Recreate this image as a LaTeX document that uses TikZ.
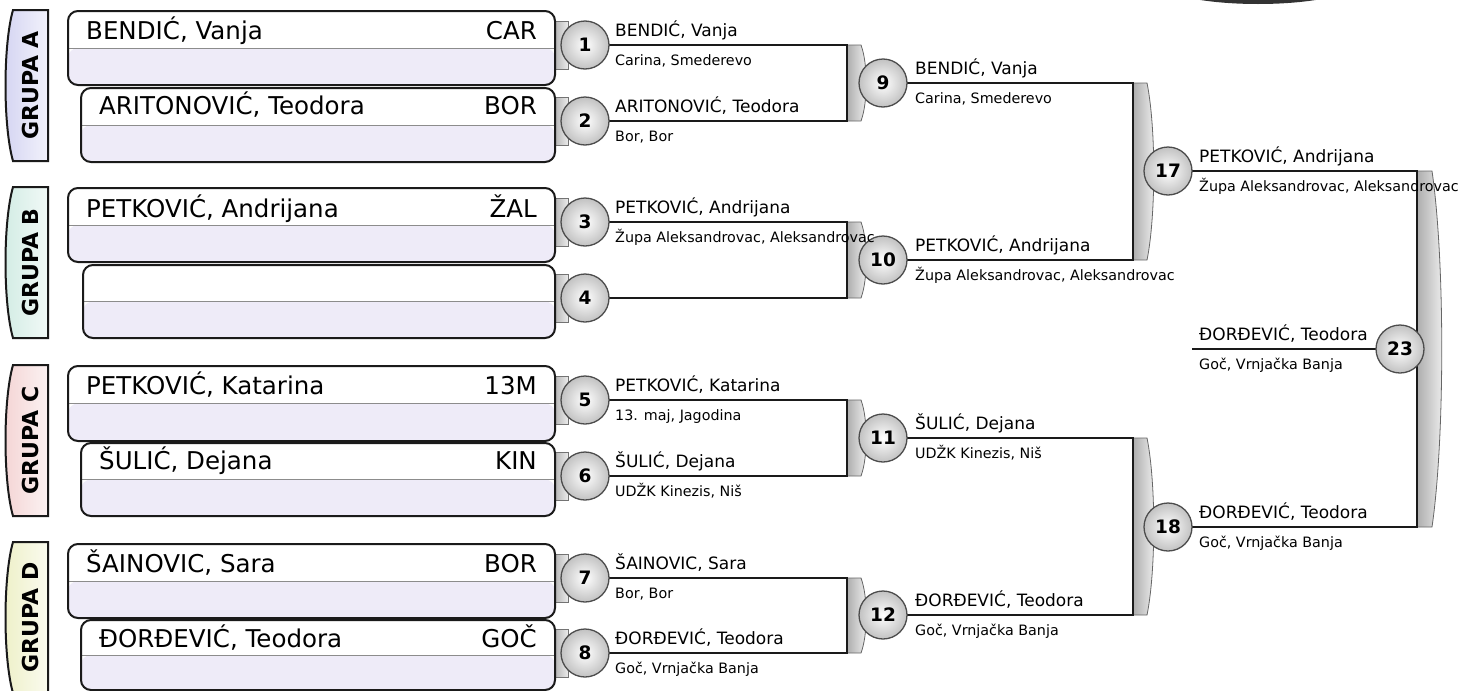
\documentclass[tikz,border=0pt]{standalone}
\usepackage{fontspec}
\setmainfont{DejaVu Sans}
\definecolor{lav}{HTML}{EEEBF8}
\definecolor{tabA}{HTML}{D4D4F2}
\definecolor{tabB}{HTML}{D2ECE4}
\definecolor{tabC}{HTML}{F4D4D4}
\definecolor{tabD}{HTML}{EEF0C8}
\definecolor{ink}{HTML}{1A1A1A}
\tikzset{
  pbox/.style={draw=ink, line width=2pt, rounded corners=10pt, fill=white, anchor=north west,
    inner sep=0pt,
    path picture={\fill[lav] (path picture bounding box.west) rectangle (path picture bounding box.south east);
      \draw[black!45, line width=1pt] (path picture bounding box.west) -- (path picture bounding box.east);}},
  bname/.style={anchor=base west, inner sep=0pt, font=\fontsize{24.5}{28}\selectfont},
  bcode/.style={anchor=base east, inner sep=0pt, font=\fontsize{24.5}{28}\selectfont},
  wname/.style={anchor=base west, inner sep=0pt, font=\fontsize{17}{20}\selectfont},
  wclub/.style={anchor=base west, inner sep=0pt, font=\fontsize{14.3}{17}\selectfont},
  matchc/.style={circle, draw=black!70, line width=1.3pt, minimum size=48pt, inner sep=0pt,
    inner color=white, outer color=black!24, font=\bfseries\fontsize{18.5}{21}\selectfont},
  conn/.style={draw=ink, line width=2.3pt},
  gtab/.style={draw=ink, line width=2pt},
  glabel/.style={rotate=90, inner sep=0pt, font=\bfseries\fontsize{22}{25}\selectfont},
  brk/.style={draw=black!60, line width=0.8pt, left color=black!32, right color=black!5},
  stub/.style={draw=black!55, line width=0.8pt, left color=black!30, right color=black!8}
}
% tab: #1 top, #2 colour, #3 label, #4 node name
\newcommand{\grouptab}[4]{%
  \draw[gtab, left color=#2, right color=#2!30!white] (48,#1) -- (13,#1)
     .. controls (3,#1+35) and (3,#1+116) .. (13,#1+151) -- (48,#1+151) -- cycle;
  \node[glabel] (#4) at (30,#1+75.5) {#3};}
% box: #1 name, #2 left x, #3 top, #4 height, #5 player, #6 code, #7 baseline offset
\newcommand{\playerbox}[7]{%
  \node[pbox, minimum width=554-#2, minimum height=#4] (#1) at (#2,#3) {};
  \node[bname] (#1n) at (#2+19,#3+#7) {#5};
  \node[bcode] (#1c) at (537,#3+#7) {#6};}
% stub behind first-round circle at height #1
\newcommand{\stubat}[1]{\draw[stub] (554,#1-24) rectangle (568,#1+24);}
% bracket: #1 x, #2 top y, #3 bottom y, #4 width, #5 bulge
\newcommand{\bracketat}[5]{%
  \draw[brk] (#1,#2) -- (#1+#4,#2) .. controls (#1+#4+#5,#2+0.25*#3-0.25*#2) and (#1+#4+#5,#3-0.25*#3+0.25*#2) .. (#1+#4,#3) -- (#1,#3) -- cycle;}
% winner text: #1 node base name, #2 x, #3 line y, #4 name, #5 club
\newcommand{\winner}[5]{%
  \node[wname] (#1n) at (#2,#3-8.5) {#4};
  \node[wclub] (#1c) at (#2,#3+20) {#5};}
\begin{document}
\begin{tikzpicture}[x=1pt,y=-1pt]
\useasboundingbox (0,0) rectangle (1476,691);
\begin{scope}
\clip (0,0) rectangle (1476,691);
% cut-off logo at the top
\fill[black!80] (1258,-17) ellipse [x radius=98, y radius=21];
% group tabs
\grouptab{10}{tabA}{GRUPA A}{gA}
\grouptab{187}{tabB}{GRUPA B}{gB}
\grouptab{365}{tabC}{GRUPA C}{gC}
\grouptab{542}{tabD}{GRUPA D}{gD}
% stubs
\foreach \yy in {45,121,222,298,400,476,578,653} {\stubat{\yy}}
% boxes
\playerbox{p1}{67}{10}{74}{BENDIĆ, Vanja}{CAR}{29}
\playerbox{p2}{80}{87}{74}{ARITONOVIĆ, Teodora}{BOR}{27}
\playerbox{p3}{67}{187}{74}{PETKOVIĆ, Andrijana}{ŽAL}{30}
\playerbox{p4}{82}{264}{73}{}{}{27}
\playerbox{p5}{67}{365}{75}{PETKOVIĆ, Katarina}{13M}{29}
\playerbox{p6}{80}{442}{73}{ŠULIĆ, Dejana}{KIN}{27}
\playerbox{p7}{67}{543}{74}{ŠAINOVIC, Sara}{BOR}{29}
\playerbox{p8}{80}{619}{70}{ĐORĐEVIĆ, Teodora}{GOČ}{28}
% brackets
\bracketat{847}{45}{121}{14}{7}
\bracketat{847}{222}{298}{14}{7}
\bracketat{847}{400}{476}{14}{7}
\bracketat{847}{578}{653}{14}{7}
\bracketat{1133}{83}{260}{14}{9}
\bracketat{1133}{438}{615}{14}{9}
\bracketat{1417}{171}{527}{15}{13}
% bracket columns
\coordinate (k1) at (847,0);
\coordinate (k2) at (1133,0);
\coordinate (k3) at (1417,0);
% match circles (positions)
\coordinate (c1) at (585,45);   \coordinate (c2) at (585,121);
\coordinate (c3) at (585,222);  \coordinate (c4) at (585,298);
\coordinate (c5) at (585,400);  \coordinate (c6) at (585,476);
\coordinate (c7) at (585,578);  \coordinate (c8) at (585,653);
\coordinate (c9) at (883,83);   \coordinate (c10) at (883,260);
\coordinate (c11) at (883,438); \coordinate (c12) at (883,615);
\coordinate (c17) at (1168,171); \coordinate (c18) at (1168,527);
\coordinate (c23) at (1400,349);
\coordinate (f23) at (1192,349);
% connectors
\draw[conn] (c1) -- (c1 -| k1) -- (c2 -| k1) -- (c2);
\draw[conn] (c3) -- (c3 -| k1) -- (c4 -| k1) -- (c4);
\draw[conn] (c5) -- (c5 -| k1) -- (c6 -| k1) -- (c6);
\draw[conn] (c7) -- (c7 -| k1) -- (c8 -| k1) -- (c8);
\draw[conn] (c9) -- (c9 -| k2) -- (c10 -| k2) -- (c10);
\draw[conn] (c11) -- (c11 -| k2) -- (c12 -| k2) -- (c12);
\draw[conn] (c17) -- (c17 -| k3) -- (c18 -| k3) -- (c18);
\draw[conn] (f23) -- (c23);
% circles
\foreach \n in {1,...,12,17,18,23} {\node[matchc] (m\n) at (c\n) {\n};}
% winner texts
\winner{w1}{615}{45}{BENDIĆ, Vanja}{Carina, Smederevo}
\winner{w2}{615}{121}{ARITONOVIĆ, Teodora}{Bor, Bor}
\winner{w3}{615}{222}{PETKOVIĆ, Andrijana}{Župa Aleksandrovac, Aleksandrovac}
\winner{w5}{615}{400}{PETKOVIĆ, Katarina}{13. maj, Jagodina}
\winner{w6}{615}{476}{ŠULIĆ, Dejana}{UDŽK Kinezis, Niš}
\winner{w7}{615}{578}{ŠAINOVIC, Sara}{Bor, Bor}
\winner{w8}{615}{653}{ĐORĐEVIĆ, Teodora}{Goč, Vrnjačka Banja}
\winner{w9}{915}{83}{BENDIĆ, Vanja}{Carina, Smederevo}
\winner{w10}{915}{260}{PETKOVIĆ, Andrijana}{Župa Aleksandrovac, Aleksandrovac}
\winner{w11}{915}{438}{ŠULIĆ, Dejana}{UDŽK Kinezis, Niš}
\winner{w12}{915}{615}{ĐORĐEVIĆ, Teodora}{Goč, Vrnjačka Banja}
\winner{w17}{1199}{171}{PETKOVIĆ, Andrijana}{Župa Aleksandrovac, Aleksandrovac}
\winner{w18}{1199}{527}{ĐORĐEVIĆ, Teodora}{Goč, Vrnjačka Banja}
\winner{w23}{1199}{349}{ĐORĐEVIĆ, Teodora}{Goč, Vrnjačka Banja}
\end{scope}
\end{tikzpicture}
\end{document}
